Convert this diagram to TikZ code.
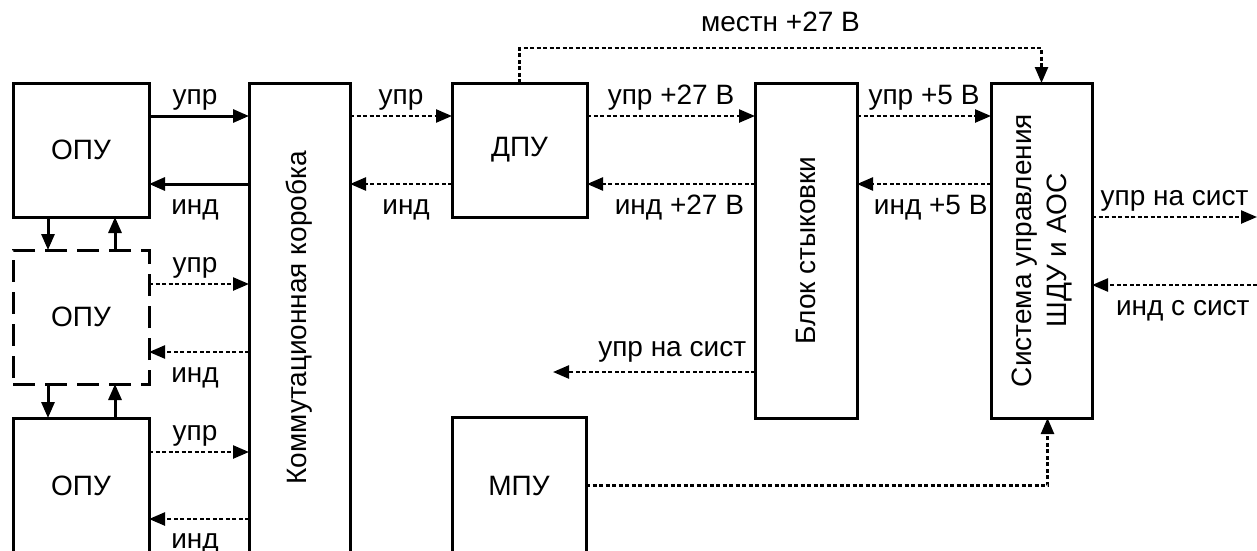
\documentclass[tikz,border=0pt]{standalone}
\usepackage{fontspec}
\setmainfont{Liberation Sans}
\usetikzlibrary{arrows.meta}

\begin{document}
\begin{tikzpicture}[x=1pt,y=-1pt,>={Triangle[length=16pt,width=13pt]},
  font=\fontsize{28}{33}\selectfont,
  blk/.style={draw,line width=3pt,inner sep=0pt,outer sep=0pt},
  sol/.style={line width=3pt,->},
  dot/.style={line width=2.4pt,dash pattern=on 4pt off 2.5pt,->},
  lab/.style={inner sep=0pt,text height=19pt,text depth=6pt}]
  \useasboundingbox (0,0) rectangle (1257,550);
  % rows and columns
  \coordinate (r1) at (0,116);  \coordinate (r2) at (0,184);
  \coordinate (r3) at (0,284);  \coordinate (r4) at (0,352);
  \coordinate (r5) at (0,452);  \coordinate (r6) at (0,519);
  \coordinate (rtop) at (0,48);
  \coordinate (c1) at (48,0);   \coordinate (c2) at (115,0);
  \coordinate (nasist) at (553,372);
  \coordinate (ext1) at (1257,217); \coordinate (ext2) at (1257,285);
  % blocks
  \node[blk,minimum width=136pt,minimum height=134pt] (opu1) at (81,150) {ОПУ};
  \node[blk,dash pattern=on 22pt off 10pt,minimum width=136pt,minimum height=134pt] (opu2) at (81,317) {ОПУ};
  \node[blk,minimum width=136pt,minimum height=136pt] (opu3) at (81,486) {ОПУ};
  \node[blk,minimum width=101pt,minimum height=470pt,
    label={[rotate=90]center:Коммутационная коробка}] (komm) at (299.5,318) {};
  \node[blk,minimum width=135pt,minimum height=134pt] (dpu) at (519.5,150) {ДПУ};
  \node[blk,minimum width=134pt,minimum height=137pt] (mpu) at (519,485.5) {МПУ};
  \node[blk,minimum width=102pt,minimum height=335pt,
    label={[rotate=90]center:Блок стыковки}] (blok) at (806,250.5) {};
  \node[blk,minimum width=101pt,minimum height=335pt,
    label={[rotate=90,align=center,font=\fontsize{28}{35}\selectfont]center:{Система управления\\ШДУ и АОС}}] (sys) at (1041.5,250.5) {};
  % OPU <-> OPU
  \draw[sol] (opu1.south -| c1) -- (opu2.north -| c1);
  \draw[sol] (opu2.north -| c2) -- (opu1.south -| c2);
  \draw[sol] (opu2.south -| c1) -- (opu3.north -| c1);
  \draw[sol] (opu3.north -| c2) -- (opu2.south -| c2);
  % OPU <-> komm
  \draw[sol] (opu1.east |- r1) -- node[lab,above=4.5pt,pos=0.46] (l1) {упр} (komm.west |- r1);
  \draw[sol] (komm.west |- r2) -- node[lab,below=10pt,pos=0.54] (l2) {инд} (opu1.east |- r2);
  \draw[dot] (opu2.east |- r3) -- node[lab,above=4.5pt,pos=0.46] (l3) {упр} (komm.west |- r3);
  \draw[dot] (komm.west |- r4) -- node[lab,below=10pt,pos=0.54] (l4) {инд} (opu2.east |- r4);
  \draw[dot] (opu3.east |- r5) -- node[lab,above=4.5pt,pos=0.46] (l5) {упр} (komm.west |- r5);
  \draw[dot] (komm.west |- r6) -- node[lab,below=9pt,pos=0.54] (l6) {инд} (opu3.east |- r6);
  % komm -> dpu -> blok -> sys
  \draw[dot] (komm.east |- r1) -- node[lab,above=4.5pt] (l7) {упр} (dpu.west |- r1);
  \draw[dot] (dpu.west |- r2) -- node[lab,below=10pt,pos=0.45] (l8) {инд} (komm.east |- r2);
  \draw[dot] (dpu.east |- r1) -- node[lab,above=4.5pt] (l9) {упр +27 В} (blok.west |- r1);
  \draw[dot] (blok.west |- r2) -- node[lab,below=10pt,pos=0.45] (l10) {инд +27 В} (dpu.east |- r2);
  \draw[dot] (blok.east |- r1) -- node[lab,above=4.5pt] (l11) {упр +5 В} (sys.west |- r1);
  \draw[dot] (sys.west |- r2) -- node[lab,below=10pt,pos=0.45] (l12) {инд +5 В} (blok.east |- r2);
  % outputs
  \draw[dot] (sys.east |- ext1) -- node[lab,above=4.5pt] (l13) {упр на сист} (ext1);
  \draw[dot] (ext2) -- node[lab,below=10pt,pos=0.45] (l14) {инд с сист} (sys.east |- ext2);
  \draw[dot] (blok.west |- nasist) -- node[lab,above=8pt,pos=0.41] (l15) {упр на сист} (nasist);
  \draw[dot] (dpu.north) -- (dpu.north |- rtop) -- node[lab,above=9pt] (l16) {местн +27 В} (sys.north |- rtop) -- (sys.north);
  \draw[dot] (mpu.east) -| ([xshift=6pt]sys.south);
\end{tikzpicture}
\end{document}
